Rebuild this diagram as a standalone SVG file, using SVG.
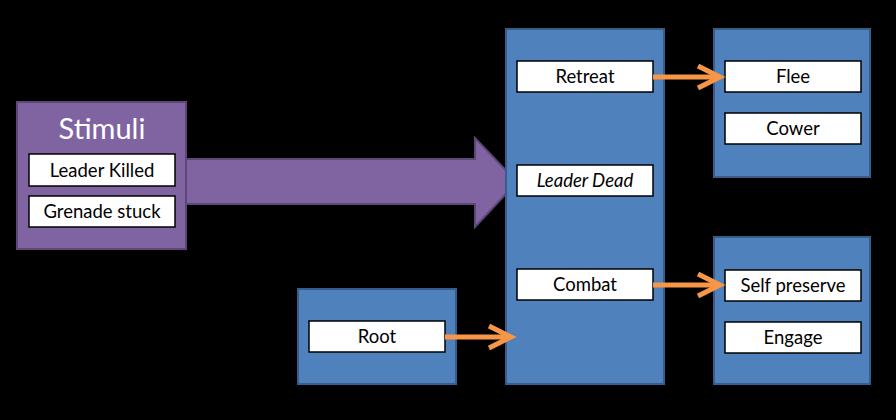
<svg xmlns="http://www.w3.org/2000/svg" width="896" height="420" viewBox="0 0 896 420">
<defs>
<style>
.blue{fill:#4f81bd;stroke:#385d8a;stroke-width:2}
.purple{fill:#8064a2;stroke:#5c4776;stroke-width:2}
.item{fill:#ffffff;stroke:#000000;stroke-width:1.5}
.lbl{font-family:Lato,"Liberation Sans",sans-serif;font-size:18.5px;fill:#000000;text-anchor:middle}
.title{font-family:Lato,"Liberation Sans",sans-serif;font-size:29px;fill:#ffffff;text-anchor:middle}
.conn{fill:none;stroke:#f79646;stroke-width:5}
</style>
<marker id="chev" viewBox="0 0 26 26" markerUnits="userSpaceOnUse" markerWidth="26" markerHeight="26" refX="18" refY="13" orient="auto" overflow="visible">
<path d="M0,2 L22,13 L0,24" fill="none" stroke="#f79646" stroke-width="5" stroke-linejoin="miter"/>
</marker>
</defs>
<rect x="0" y="0" width="896" height="420" fill="#000000"/>

<g id="stimuli">
<rect class="purple" x="17" y="102" width="169" height="147"/>
<text class="title" x="102" y="139">Stimuli</text>
<rect class="item" x="29" y="154" width="146" height="32"/>
<text class="lbl" x="102" y="177">Leader Killed</text>
<rect class="item" x="29" y="196" width="146" height="31"/>
<text class="lbl" x="102" y="218">Grenade stuck</text>
</g>

<g id="stimuli-arrow">
<path class="purple" d="M186,159 L475,159 L475,138 L517,182 L475,227 L475,204 L186,204 Z"/>
</g>

<g id="middle">
<rect class="blue" x="506" y="29" width="158" height="355"/>
<rect class="item" x="517" y="61" width="136" height="31"/>
<text class="lbl" x="585" y="83">Retreat</text>
<rect class="item" x="517" y="165" width="136" height="31"/>
<text class="lbl" x="585" y="187" font-style="italic">Leader Dead</text>
<rect class="item" x="517" y="269" width="136" height="31"/>
<text class="lbl" x="585" y="291">Combat</text>
</g>

<g id="retreat-group">
<rect class="blue" x="714" y="29" width="156" height="148"/>
<rect class="item" x="725" y="61" width="136" height="31"/>
<text class="lbl" x="793" y="83">Flee</text>
<rect class="item" x="725" y="113" width="136" height="31"/>
<text class="lbl" x="793" y="135">Cower</text>
</g>

<g id="combat-group">
<rect class="blue" x="714" y="237" width="156" height="147"/>
<rect class="item" x="725" y="270" width="136" height="31"/>
<text class="lbl" x="793" y="292">Self preserve</text>
<rect class="item" x="725" y="322" width="136" height="31"/>
<text class="lbl" x="793" y="344">Engage</text>
</g>

<g id="root">
<rect class="blue" x="298" y="289" width="158" height="95"/>
<rect class="item" x="309" y="321" width="136" height="31"/>
<text class="lbl" x="377" y="343">Root</text>
</g>

<g id="connectors">
<line class="conn" x1="653" y1="77" x2="716" y2="77" marker-end="url(#chev)"/>
<line class="conn" x1="653" y1="285" x2="716" y2="285" marker-end="url(#chev)"/>
<line class="conn" x1="445" y1="337" x2="507" y2="337" marker-end="url(#chev)"/>
</g>
</svg>
